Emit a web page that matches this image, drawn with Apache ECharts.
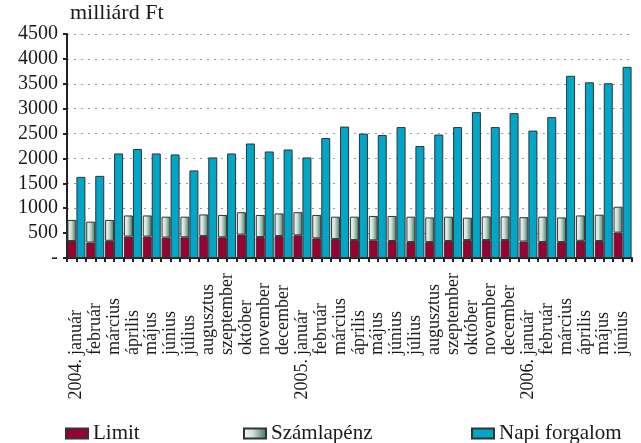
<!DOCTYPE html>
<html>
<head>
<meta charset="utf-8">
<script src="https://cdn.jsdelivr.net/npm/echarts@6/dist/echarts.min.js"></script>
<style>
  html, body { margin: 0; padding: 0; background: #fff; }
  #chart { width: 641px; height: 443px; }
</style>
</head>
<body>
<div id="chart"></div>
<script>
// Hónapok (2004. január - 2006. június)
const months = ['január', 'február', 'március', 'április', 'május', 'június', 'július', 'augusztus', 'szeptember', 'október', 'november', 'december',
  'január', 'február', 'március', 'április', 'május', 'június', 'július', 'augusztus', 'szeptember', 'október', 'november', 'december',
  'január', 'február', 'március', 'április', 'május', 'június'];
const years = ['2004.', '', '', '', '', '', '', '', '', '', '', '',
  '2005.', '', '', '', '', '', '', '', '', '', '', '',
  '2006.', '', '', '', '', ''];

// Értékek (milliárd Ft)
const limit = [340, 310, 345, 430, 430, 410, 415, 440, 415, 470, 420, 440, 455, 395, 380, 360, 355, 340, 320, 320, 340, 360, 360, 360, 330, 320, 320, 345, 340, 510];
const szamlapenz = [425, 420, 420, 425, 425, 420, 415, 435, 450, 450, 445, 455, 465, 470, 450, 470, 490, 505, 510, 495, 490, 450, 475, 475, 490, 510, 495, 510, 530, 520];
const napiForgalom = [1630, 1650, 2100, 2190, 2100, 2080, 1760, 2020, 2100, 2300, 2140, 2180, 2020, 2410, 2640, 2500, 2470, 2630, 2250, 2480, 2630, 2930, 2630, 2910, 2560, 2830, 3660, 3530, 3510, 3840];

const serif = 'Liberation Serif';

document.addEventListener('DOMContentLoaded', () => {
    var chart = echarts.init(document.getElementById('chart'));

    // félkategóriás tengely csak a beosztásokhoz
    const halfTicks = [];
    for (let i = 0; i < months.length * 2; i++) halfTicks.push(String(i));

    const option = {
        animation: false,
        title: {
            text: 'milliárd Ft',
            left: 70,
            top: 2,
            padding: 0,
            textStyle: { fontFamily: serif, fontSize: 22, fontWeight: 'normal', color: '#1a1a1a' }
        },
        legend: [
            { data: ['Limit'], left: 65, top: 423 },
            { data: ['Számlapénz'], left: 243, top: 423 },
            { data: ['Napi forgalom'], left: 471, top: 423 }
        ].map(l => Object.assign(l, {
            padding: 0, icon: 'rect',
            itemWidth: 22, itemHeight: 10, itemGap: 10,
            textStyle: { fontFamily: serif, fontSize: 21, color: '#1a1a1a' }
        })),
        grid: { left: 67, right: 9, top: 34, bottom: 185, containLabel: false },
        xAxis: [
            {
                type: 'category', position: 'bottom', data: months,
                axisLine: { show: false }, axisTick: { show: false },
                axisLabel: { interval: 0, rotate: 90, align: 'left', margin: 97,
                    fontFamily: serif, fontSize: 18, color: '#1a1a1a' }
            },
            {
                type: 'category', position: 'bottom', data: years,
                axisLine: { show: false }, axisTick: { show: false },
                axisLabel: { interval: 0, rotate: 90, align: 'right', margin: 101,
                    fontFamily: serif, fontSize: 18, color: '#1a1a1a' }
            },
            {
                type: 'category', position: 'bottom', data: halfTicks,
                axisLine: { show: true, lineStyle: { color: '#222', width: 2 } },
                axisTick: { show: true, interval: 0, length: 4, lineStyle: { color: '#222', width: 2 } },
                axisLabel: { show: false }
            }
        ],
        yAxis: {
            type: 'value', min: 0, max: 4500, interval: 500,
            axisLine: { show: true, lineStyle: { color: '#222', width: 2 } },
            axisTick: { show: true, length: 4, lineStyle: { color: '#222', width: 2 } },
            axisLabel: {
                fontFamily: serif, fontSize: 20, color: '#1a1a1a', margin: 9,
                formatter: v => v === 0 ? '-' : String(v)
            },
            splitLine: { show: true, lineStyle: { color: '#999', width: 1, type: [2, 5] } }
        },
        series: [
            {
                name: 'Limit', type: 'bar', stack: 'szamla', xAxisIndex: 0,
                data: limit, barWidth: 9, barGap: '0%',
                itemStyle: { color: '#990033', borderColor: '#333', borderWidth: 1 }
            },
            {
                name: 'Számlapénz', type: 'bar', stack: 'szamla', xAxisIndex: 0,
                data: szamlapenz, barWidth: 9, barGap: '0%',
                itemStyle: {
                    color: new echarts.graphic.LinearGradient(0, 0, 1, 0, [
                        { offset: 0, color: '#f4f8f6' },
                        { offset: 0.4, color: '#d2e2db' },
                        { offset: 1, color: '#3a745f' }
                    ]),
                    borderColor: '#333', borderWidth: 1
                }
            },
            {
                name: 'Napi forgalom', type: 'bar', xAxisIndex: 0,
                data: napiForgalom, barWidth: 9, barGap: '0%',
                itemStyle: { color: '#00a6c8', borderColor: '#333', borderWidth: 1 }
            }
        ]
    };

    chart.setOption(option);
    window.addEventListener('resize', () => chart.resize());
});
</script>
</body>
</html>
